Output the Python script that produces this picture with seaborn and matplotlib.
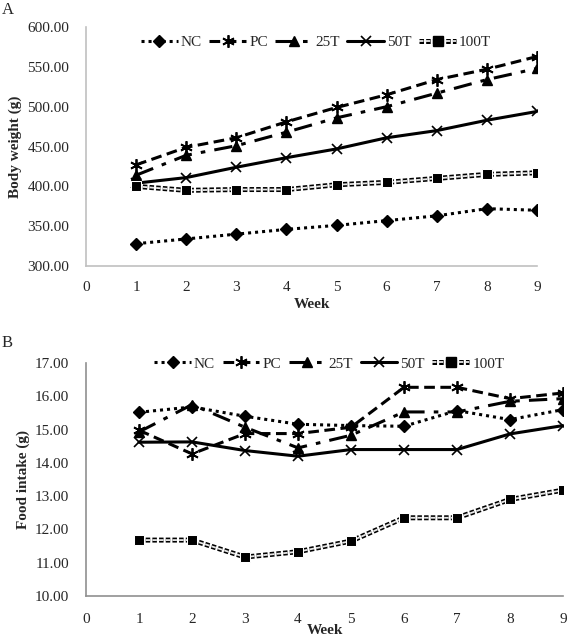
import numpy as np
import pandas as pd
import matplotlib
matplotlib.use("Agg")
import matplotlib.pyplot as plt
import matplotlib.patheffects as pe
from matplotlib.lines import Line2D
from matplotlib.ticker import FormatStrFormatter
import seaborn as sns

sns.set_style("white")
plt.rcParams['font.family'] = ['Liberation Serif', 'DejaVu Serif']

weeks = [1, 2, 3, 4, 5, 6, 7, 8, 9]
groups = ["NC", "PC", "25T", "50T", "100T"]

# Panel A - body weight (g)
bw_nc = [328, 334, 340, 346, 351, 357, 363, 372, 370]
bw_pc = [427, 449, 461, 481, 499, 515, 534, 547, 563]
bw_25t = [414, 439, 451, 468, 486, 500, 517, 534, 548]
bw_50t = [404, 411, 424, 436, 447, 461, 470, 483, 494]
bw_100t = [400, 395, 396, 396, 402, 405, 410, 415, 417]

# Panel B - food intake (g)
fi_nc = [15.52, 15.68, 15.40, 15.16, 15.12, 15.10, 15.57, 15.30, 15.60]
fi_pc = [14.98, 14.27, 14.88, 14.88, 15.07, 16.27, 16.27, 15.93, 16.10]
fi_25t = [14.93, 15.75, 15.07, 14.45, 14.83, 15.53, 15.53, 15.85, 15.93]
fi_50t = [14.62, 14.63, 14.37, 14.20, 14.40, 14.40, 14.40, 14.87, 15.12]
fi_100t = [11.68, 11.68, 11.17, 11.33, 11.65, 12.35, 12.35, 12.90, 13.18]

styles = {
    "NC": dict(ls=(0, (1, 1.3)), marker="D", ms=6, lw=2.2, mew=1),
    "PC": dict(ls=(0, (3.5, 1.8)), marker=(6, 2, 0), ms=9, lw=2.2, mew=1.3),
    "25T": dict(ls=(0, (6, 3, 1.5, 3)), marker="^", ms=7, lw=2.2, mew=1),
    "50T": dict(ls="-", marker="x", ms=7, lw=2.2, mew=1.2),
    "100T": dict(ls=(0, (2.5, 1.2)), marker="s", ms=6.5, lw=1.3, mew=1),
}
outline = [pe.Stroke(linewidth=3.6, foreground="black"), pe.Normal()]


def draw(ax, series, ylim, ystep, ylabel, spine_col, leg_y, xpad, wpad):
    handles = []
    for g, vals in zip(groups, series):
        st = styles[g]
        df = pd.DataFrame({"Week": weeks, "val": vals})
        if g == "100T":
            sns.lineplot(data=df, x="Week", y="val", ax=ax, color="#e8e8e8",
                         linestyle=st["ls"], linewidth=st["lw"], legend=False,
                         path_effects=outline)
            sns.lineplot(data=df, x="Week", y="val", ax=ax, color="black",
                         linestyle="", marker="s", markersize=st["ms"], legend=False)
            h = (Line2D([], [], color="#e8e8e8", ls=st["ls"], lw=st["lw"], path_effects=outline),
                 Line2D([], [], color="black", ls="", marker="s", ms=st["ms"]))
        else:
            sns.lineplot(data=df, x="Week", y="val", ax=ax, color="black",
                         linestyle=st["ls"], linewidth=st["lw"], marker=st["marker"],
                         markersize=st["ms"], markeredgewidth=st["mew"],
                         markeredgecolor="black", legend=False)
            h = Line2D([], [], color="black", ls=st["ls"], lw=st["lw"], marker=st["marker"],
                       ms=st["ms"], mew=st["mew"])
        handles.append(h)
    ax.set_xlim(0, 9)
    ax.set_xticks(range(0, 10))
    ax.set_ylim(*ylim)
    ax.set_yticks(np.arange(ylim[0], ylim[1] + 0.001, ystep))
    ax.yaxis.set_major_formatter(FormatStrFormatter("%.2f"))
    ax.tick_params(axis="y", labelsize=11, length=0, pad=12)
    ax.tick_params(axis="x", labelsize=11, length=0, pad=xpad)
    for s in ["top", "right"]:
        ax.spines[s].set_visible(False)
    for s in ["left", "bottom"]:
        ax.spines[s].set_color(spine_col)
        ax.spines[s].set_linewidth(1.2)
    ax.set_xlabel("Week", fontsize=11, fontweight="bold", labelpad=wpad)
    ax.set_ylabel(ylabel, fontsize=11, fontweight="bold", labelpad=4)
    ax.legend(handles, groups, ncol=5, frameon=False, loc="center",
              bbox_to_anchor=(0.51, leg_y), fontsize=11, handlelength=2.4,
              handletextpad=0.2, columnspacing=0.5, borderaxespad=0)


fig = plt.figure(figsize=(5.67, 6.39), dpi=100)
ax1 = fig.add_axes([0.1517, 0.5837, 0.7954, 0.374])
ax2 = fig.add_axes([0.1517, 0.0673, 0.8413, 0.3646])

draw(ax1, [bw_nc, bw_pc, bw_25t, bw_50t, bw_100t], (300, 600), 50,
     "Body weight (g)", "#c0c0c0", 0.937, 11, 3)
draw(ax2, [fi_nc, fi_pc, fi_25t, fi_50t, fi_100t], (10, 17), 1,
     "Food intake (g)", "#909090", 0.996, 12, -1)

fig.text(0.003, 0.997, "A", fontsize=12, va="top", ha="left")
fig.text(0.003, 0.475, "B", fontsize=12, va="top", ha="left")

fig.savefig("out.png", dpi=100)
